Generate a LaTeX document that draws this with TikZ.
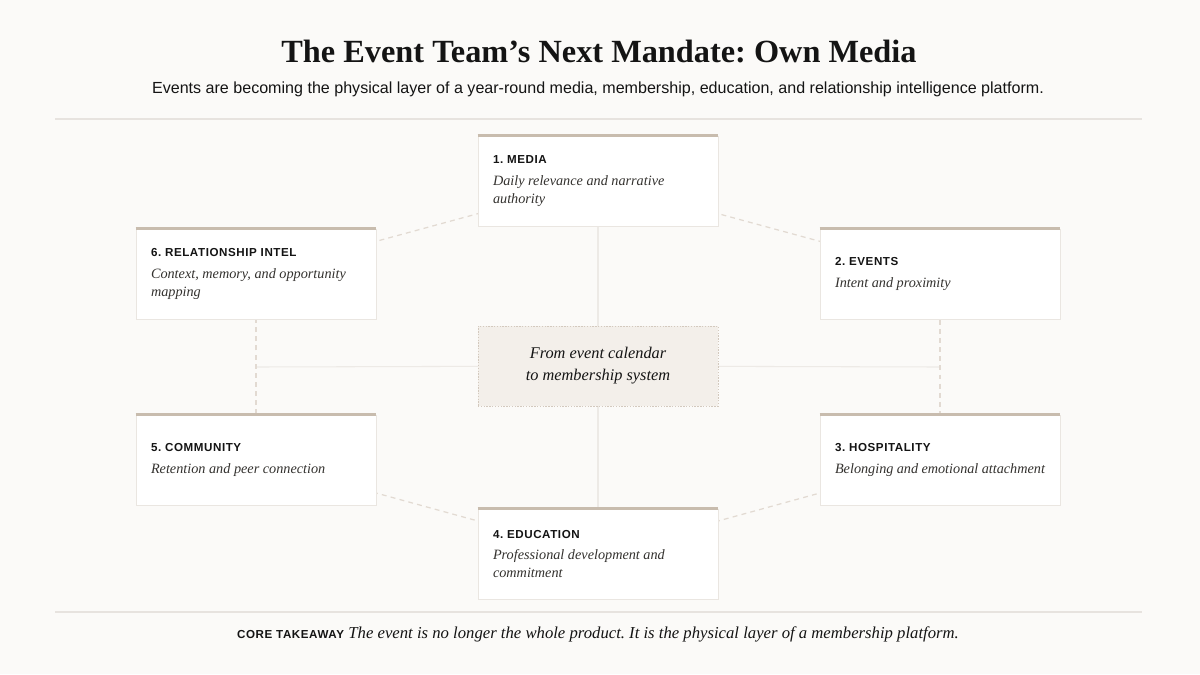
\documentclass[tikz,border=0pt]{standalone}
\usepackage{fontspec}
\setmainfont{Liberation Serif}
\setsansfont{Liberation Sans}
\usepackage{tikz}
\usetikzlibrary{positioning, calc, backgrounds}
\frenchspacing

\definecolor{pagebg}{HTML}{FBFAF8}
\definecolor{ink}{HTML}{141414}
\definecolor{softink}{HTML}{34322F}
\definecolor{tan}{HTML}{C8BCAE}
\definecolor{cardline}{HTML}{EAE6E1}
\definecolor{hubfill}{HTML}{F3EFEA}
\definecolor{ringline}{HTML}{E2DAD2}
\definecolor{spokeline}{HTML}{EDEAE6}
\definecolor{ruleline}{HTML}{E7E3DF}

\newcommand{\cardtitle}[1]{{\upshape\sffamily\bfseries\fontsize{6.6}{8}\selectfont\addfontfeature{LetterSpace=5}\color{ink}#1}}

\tikzset{
  card/.style={draw=cardline, line width=0.5pt, fill=white, minimum width=4.8cm,
    minimum height=1.8cm, text width=4.2cm, inner xsep=0.3cm, align=flush left,
    text=softink, font={\fontsize{8.1}{10.2}\selectfont\itshape}},
  cardtop/.style={draw=tan, line width=1.7pt},
  hub/.style={draw=tan!80, dash pattern=on 0.8pt off 0.8pt, line width=0.5pt, fill=hubfill,
    minimum width=4.8cm, minimum height=1.6cm, align=center, text=ink,
    font={\fontsize{9.3}{12.5}\selectfont\itshape}},
  ring/.style={draw=ringline, line width=0.7pt, dash pattern=on 2.8pt off 2.4pt},
  spoke/.style={draw=spokeline, line width=0.6pt},
  rule/.style={draw=ruleline, line width=0.6pt}
}

\begin{document}
\begin{tikzpicture}[x=0.02cm, y=-0.02cm]
  \useasboundingbox (0,0) rectangle (1200,674);

  % Heading
  \node[font={\fontsize{18.4}{22}\selectfont\bfseries}, text=ink] (title) at (599,52) {The Event Team’s Next Mandate: Own Media};
  \node[font={\sffamily\fontsize{9.15}{12}\selectfont}, text=ink] (subtitle) at (598,89) {Events are becoming the physical layer of a year-round media, membership, education, and relationship intelligence platform.};
  \draw[rule] (55,119) -- (1142,119);
  \draw[rule] (55,612) -- (1142,612);

  % Nodes
  \node[hub] (hub) at (598,366) {From event calendar\\to membership system};
  \node[card] (media) at (598,181) {\cardtitle{1. MEDIA}\\[2pt]Daily relevance and narrative\\authority};
  \node[card] (events) at (940,274) {\cardtitle{2. EVENTS}\\[2pt]Intent and proximity};
  \node[card] (hospitality) at (940,460) {\cardtitle{3. HOSPITALITY}\\[2pt]Belonging and emotional attachment};
  \node[card] (education) at (598,554) {\cardtitle{4. EDUCATION}\\[2pt]Professional development and\\commitment};
  \node[card] (community) at (256,460) {\cardtitle{5. COMMUNITY}\\[2pt]Retention and peer connection};
  \node[card] (relintel) at (256,274) {\cardtitle{6. RELATIONSHIP INTEL}\\[2pt]Context, memory, and opportunity\\mapping};
  \foreach \n in {media,events,hospitality,education,community,relintel}
  \draw[cardtop] (\n.north west) -- (\n.north east);

  % Takeaway
  \node[text=ink] (takeaway) at (598,634) {\cardtitle{CORE TAKEAWAY}\ {\fontsize{9.5}{12}\selectfont\itshape The event is no longer the whole product. It is the physical layer of a membership platform.}};

  % Links
  \coordinate (westmid) at ($(relintel.center)!0.5!(community.center)$);
  \coordinate (eastmid) at ($(events.center)!0.5!(hospitality.center)$);
  \begin{scope}[on background layer]
    \fill[pagebg] (0,0) rectangle (1200,674);
    \foreach \a in {media,education,westmid,eastmid}
    \draw[spoke] (hub.center) -- (\a);
    \foreach \a/\b in {media/events, events/hospitality, hospitality/education, education/community, community/relintel, relintel/media}
    \draw[ring] (\a.center) -- (\b.center);
  \end{scope}
\end{tikzpicture}
\end{document}
